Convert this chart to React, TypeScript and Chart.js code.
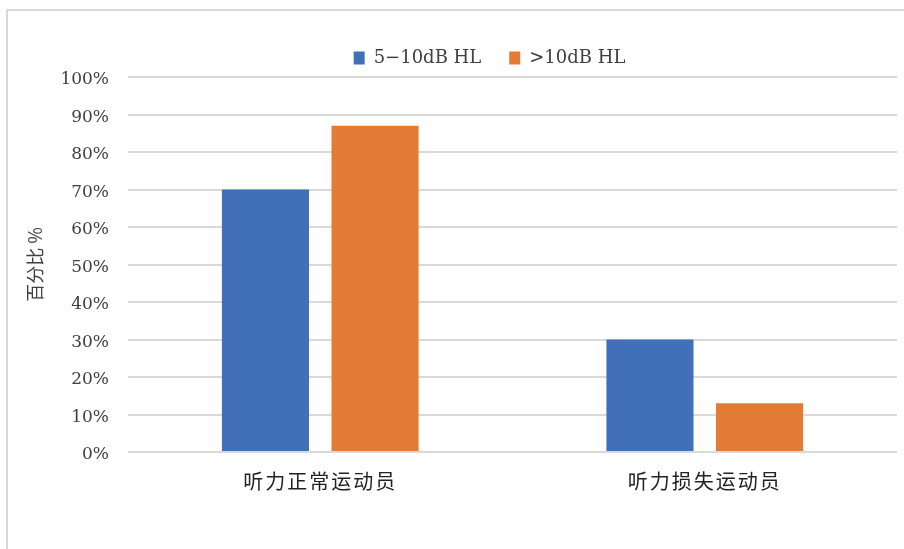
import { useEffect, useRef } from "react";
import { Chart, registerables } from "chart.js";

Chart.register(...registerables);

// Hearing groups on the x axis
const categories = ["听力正常运动员", "听力损失运动员"];
// Series (hearing threshold shift)
const seriesNames = ["5−10dB HL", ">10dB HL"];
const shift5to10 = [70, 30];
const shiftOver10 = [87, 13];
// Percentage axis
const yMin = 0;
const yMax = 100;
const yStep = 10;
const yTitle = "百分比 %";

const BLUE = "#4170b8";
const ORANGE = "#e47b35";
const TEXT = "#404040";
const GRID = "#d9d9d9";

// Light outer frame around the whole chart
const framePlugin = {
  id: "frame",
  beforeDraw(chart: any) {
    const { ctx } = chart;
    ctx.save();
    ctx.strokeStyle = GRID;
    ctx.lineWidth = 2;
    ctx.strokeRect(7, 10, chart.width + 20, chart.height + 20);
    ctx.restore();
  },
};

// Nudge the legend row a little left of the plot-area centre
const legendNudge = {
  id: "legendNudge",
  afterLayout(chart: any) {
    const lg = chart.legend;
    if (lg) {
      lg.left -= 23;
      lg.right -= 23;
    }
  },
};

// Wider character spacing for the category labels (drawn after the bars)
const spacedCategoryLabels = {
  id: "spacedCategoryLabels",
  afterDatasetsDraw(chart: any) {
    chart.ctx.letterSpacing = "2px";
  },
  afterDraw(chart: any) {
    chart.ctx.letterSpacing = "0px";
  },
};

export default function App() {
  const canvasRef = useRef<HTMLCanvasElement>(null);

  useEffect(() => {
    if (!canvasRef.current) return;
    const chart = new Chart(canvasRef.current, {
      type: "bar",
      data: {
        labels: categories,
        datasets: [
          {
            label: seriesNames[0],
            data: shift5to10,
            backgroundColor: BLUE,
            borderWidth: 0,
          },
          {
            label: seriesNames[1],
            data: shiftOver10,
            backgroundColor: ORANGE,
            borderWidth: 0,
          },
        ],
      },
      options: {
        responsive: false,
        animation: false,
        events: [],
        datasets: {
          bar: {
            categoryPercentage: 0.57,
            barPercentage: 0.795,
          },
        },
        layout: {
          padding: { left: 0, right: 7, top: 21, bottom: 0 },
        },
        plugins: {
          tooltip: { enabled: false },
          legend: {
            display: true,
            position: "top",
            fullSize: false,
            maxHeight: 57,
            labels: {
              boxWidth: 11,
              boxHeight: 13,
              padding: 28,
              color: TEXT,
              font: { family: "'DejaVu Serif', serif", size: 18 },
            },
          },
        },
        scales: {
          x: {
            grid: { display: false, drawTicks: false },
            border: { display: false },
            afterFit(scale: any) {
              scale.height = 97;
            },
            ticks: {
              z: 1,
              padding: 17,
              color: "#222222",
              font: { family: "'Noto Sans CJK SC', sans-serif", size: 20 },
            },
          },
          y: {
            min: yMin,
            max: yMax,
            grid: {
              color: GRID,
              lineWidth: 2,
              drawTicks: false,
            },
            border: { display: false },
            afterFit(scale: any) {
              scale.width = 128;
            },
            ticks: {
              stepSize: yStep,
              padding: 19,
              labelOffset: 3,
              color: TEXT,
              font: { family: "'DejaVu Serif', serif", size: 17 },
              callback: (v: any) => `${v}%`,
            },
            title: {
              display: true,
              text: yTitle,
              color: TEXT,
              padding: { top: 24, bottom: 0 },
              font: { family: "'Noto Sans CJK SC', sans-serif", size: 18 },
            },
          },
        },
      },
      plugins: [framePlugin, legendNudge, spacedCategoryLabels],
    });
    return () => chart.destroy();
  }, []);

  return (
    <div style={{ position: "fixed", left: 0, top: 0, width: 904, height: 549, background: "#ffffff" }}>
      <canvas ref={canvasRef} width={904} height={549} />
    </div>
  );
}
